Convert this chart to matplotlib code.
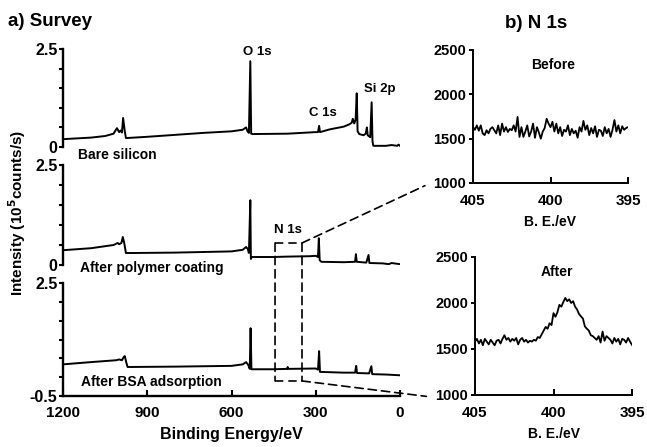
import numpy as np
import matplotlib
matplotlib.use('Agg')
from matplotlib import pyplot as plt
from matplotlib.patches import ConnectionPatch

plt.rcParams['font.family'] = ['Liberation Sans', 'DejaVu Sans']
plt.rcParams['font.weight'] = 'bold'

# survey spectra (binding energy eV, intensity 1e5 counts/s)
E_bare = [1200, 1100, 1050, 1020, 1008, 1000, 995, 990, 986, 980, 976, 970, 900, 800, 700, 600, 560,
          548, 543, 538, 533, 530, 525, 400, 300, 292, 288, 285, 250, 200, 180, 172, 168, 163, 158,
          154, 151, 145, 130, 122, 118, 115, 106, 101, 98, 95, 50, 30, 10, 5, 0]
I_bare = [0.20, 0.24, 0.28, 0.34, 0.48, 0.38, 0.42, 0.37, 0.74, 0.40, 0.23, 0.23, 0.26, 0.31, 0.36, 0.40, 0.44,
          0.50, 0.40, 0.36, 2.19, 0.34, 0.33, 0.34, 0.38, 0.38, 0.54, 0.38, 0.45, 0.52, 0.58, 0.62, 0.72, 0.60, 0.70,
          1.37, 0.40, 0.33, 0.30, 0.34, 0.50, 0.30, 0.25, 1.14, 0.15, 0.03, 0.03, 0.05, 0.03, 0.06, 0.03]

E_poly = [1200, 1100, 1020, 1005, 1000, 992, 987, 982, 976, 950, 800, 600, 560, 548, 542, 538, 533, 531,
          528, 450, 400, 320, 300, 292, 289, 286, 280, 200, 160, 157, 154, 120, 112, 109, 60, 40, 30, 0]
I_poly = [0.37, 0.42, 0.50, 0.55, 0.52, 0.55, 0.70, 0.55, 0.30, 0.30, 0.31, 0.34, 0.38, 0.45, 0.40, 0.30, 1.62, 0.15,
          0.20, 0.20, 0.21, 0.22, 0.23, 0.20, 0.67, 0.12, 0.08, 0.07, 0.08, 0.27, 0.08, 0.06, 0.25, 0.05, 0.04, 0.02, 0.05, 0.02]

E_bsa = [1200, 1100, 1010, 1000, 990, 985, 980, 975, 970, 800, 600, 560, 548, 540, 535, 532, 529,
         450, 402, 400, 398, 300, 292, 288, 285, 200, 160, 156, 153, 110, 102, 99, 50, 0]
I_bsa = [0.34, 0.40, 0.45, 0.47, 0.45, 0.52, 0.56, 0.40, 0.27, 0.28, 0.30, 0.34, 0.40, 0.32, 0.22, 1.30, 0.21,
         0.21, 0.22, 0.27, 0.22, 0.23, 0.20, 0.69, 0.14, 0.12, 0.12, 0.30, 0.11, 0.10, 0.29, 0.08, 0.07, 0.05]

# N 1s high resolution, 405 -> 395 eV
E_n1s = np.linspace(405, 395, 81)
before = [1630, 1600, 1650, 1590, 1650, 1560, 1540, 1595, 1560, 1610, 1630, 1595, 1560, 1650, 1540, 1670,
          1580, 1630, 1575, 1610, 1595, 1650, 1580, 1745, 1520, 1630, 1520, 1580, 1650, 1525, 1580, 1670,
          1510, 1630, 1570, 1500, 1580, 1620, 1725, 1670, 1630, 1690, 1580, 1670, 1560, 1630, 1530, 1600,
          1580, 1650, 1540, 1610, 1560, 1590, 1510, 1630, 1580, 1700, 1600, 1650, 1540, 1620, 1560, 1640,
          1520, 1600, 1590, 1530, 1630, 1560, 1610, 1520, 1600, 1710, 1580, 1650, 1560, 1640, 1600, 1620, 1630]
after = [1580, 1610, 1560, 1600, 1540, 1610, 1580, 1550, 1600, 1570, 1540, 1590, 1600, 1560, 1610, 1650,
         1600, 1620, 1580, 1610, 1590, 1620, 1550, 1600, 1620, 1580, 1600, 1570, 1590, 1580, 1600, 1590,
         1630, 1620, 1660, 1700, 1740, 1720, 1780, 1760, 1890, 1850, 1900, 1980, 1960, 2010, 2055, 2020,
         2040, 2000, 2020, 1960, 1930, 1880, 1855, 1830, 1745, 1720, 1700, 1650, 1640, 1620, 1600, 1640,
         1570, 1690, 1590, 1640, 1620, 1600, 1560, 1620, 1580, 1610, 1550, 1610, 1600, 1570, 1620, 1580, 1545]

survey_xticks = [1200, 900, 600, 300, 0]
n1s_xticks = [405, 400, 395]
n1s_yticks = [1000, 1500, 2000, 2500]

W, H = 647, 447
fig = plt.figure(figsize=(W / 100, H / 100), dpi=100)


def box(x0, y0, x1, y1):
    # pixel box (top-left origin) -> figure fraction
    return [x0 / W, 1 - y1 / H, (x1 - x0) / W, (y1 - y0) / H]


ax_top = fig.add_axes(box(63, 49, 400, 147))
ax_mid = fig.add_axes(box(63, 165, 400, 265))
ax_bot = fig.add_axes(box(63, 283, 400, 396))
ax_b = fig.add_axes(box(473, 50, 628, 183))
ax_a = fig.add_axes(box(475, 257, 632, 395))

for ax, E, I, lo in [(ax_top, E_bare, I_bare, 0), (ax_mid, E_poly, I_poly, 0), (ax_bot, E_bsa, I_bsa, -0.5)]:
    ax.plot(E, I, c='black', lw=1.4)
    ax.set_xlim(1200, 0)
    ax.set_ylim(lo, 2.5)
    ax.patch.set_alpha(0)
    for s in ['top', 'right', 'bottom']:
        ax.spines[s].set_visible(False)
    ax.spines['left'].set_linewidth(1.7)
    ticks = np.arange(lo, 2.51, 0.5)
    ax.set_yticks(ticks)
    ax.set_yticklabels([('%g' % t) if t in (lo, 2.5) else '' for t in ticks])
    ax.tick_params(axis='y', direction='out', length=3, width=1.5, labelsize=11.5, pad=1)
    ax.set_xticks([])

ax_bot.spines['bottom'].set_visible(True)
ax_bot.spines['bottom'].set_linewidth(1.7)
ax_bot.set_xticks(survey_xticks)
ax_bot.tick_params(axis='x', direction='in', length=4, width=1.5, labelsize=11, pad=7)
ax_bot.set_xlabel('Binding Energy/eV', fontsize=11.5, fontweight='bold', labelpad=5)

ax_top.text(509, 2.42, 'O 1s', ha='center', va='center', fontsize=9.5)
ax_top.text(274, 0.87, 'C 1s', ha='center', va='center', fontsize=9.5)
ax_top.text(71, 1.48, 'Si 2p', ha='center', va='center', fontsize=9.5)
ax_top.text(1147, -0.2, 'Bare silicon', ha='left', va='center', fontsize=10)
ax_mid.text(1139, -0.075, 'After polymer coating', ha='left', va='center', fontsize=10)
ax_mid.text(399, 0.875, 'N 1s', ha='center', va='center', fontsize=9.5)
ax_bot.text(1136, -0.13, 'After BSA adsorption', ha='left', va='center', fontsize=10)

for ax, y, name in [(ax_b, before, 'Before'), (ax_a, after, 'After')]:
    ax.plot(E_n1s, y, c='black', lw=1.3)
    ax.set_xlim(405, 395)
    ax.set_ylim(1000, 2500)
    ax.set_xticks(n1s_xticks)
    ax.set_yticks(n1s_yticks)
    for s in ['top', 'right']:
        ax.spines[s].set_visible(False)
    for s in ['left', 'bottom']:
        ax.spines[s].set_linewidth(1.4)
    ax.tick_params(axis='x', direction='in', length=4, width=1.4, labelsize=11, pad=8)
    ax.tick_params(axis='y', direction='out', length=3, width=1.4, labelsize=10.5, pad=2)
    ax.set_xlabel('B. E./eV', fontsize=10, fontweight='bold', labelpad=5)
    ax.text(0.52, 0.89, name, transform=ax.transAxes, ha='center', va='center', fontsize=10)

# zoom box around N 1s region
dash = dict(color='black', lw=1.2, linestyle=(0, (5, 3)))
ax_mid.plot([445, 349], [0.55, 0.55], **dash)
ax_bot.plot([445, 349], [-0.1, -0.1], **dash)
for e in [445, 349]:
    fig.add_artist(ConnectionPatch((e, 0.55), (e, -0.1), 'data', 'data', axesA=ax_mid, axesB=ax_bot, **dash))
fig.add_artist(ConnectionPatch((349, 0.55), (-0.31, -0.02), 'data', 'axes fraction',
                               axesA=ax_mid, axesB=ax_b, **dash))
fig.add_artist(ConnectionPatch((349, -0.1), (-0.31, -0.01), 'data', 'axes fraction',
                               axesA=ax_bot, axesB=ax_a, **dash))

fig.text(17 / W, 1 - 213 / H, 'Intensity (10$^\\mathbf{5}$counts/s)', rotation=90, ha='center', va='center',
         fontsize=11, fontweight='bold')
fig.text(8 / W, 1 - 22 / H, 'a) Survey', ha='left', va='center', fontsize=13.5, fontweight='bold')
fig.text(505 / W, 1 - 23 / H, 'b) N 1s', ha='left', va='center', fontsize=13.5, fontweight='bold')

fig.savefig('out.png', dpi=100)
